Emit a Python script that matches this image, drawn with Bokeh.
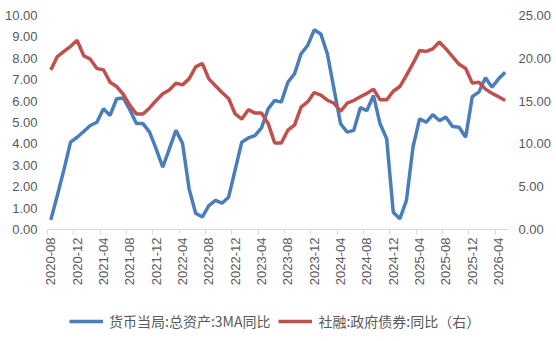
import math
import numpy as np
import pandas as pd
from bokeh.plotting import figure
from bokeh.layouts import column
from bokeh.models import (Range1d, LinearAxis, FixedTicker, Legend, LegendItem,
                          PrintfTickFormatter, ColumnDataSource)
from bokeh.embed import file_html
from bokeh.resources import INLINE

# Monthly series, 2020-08 .. 2026-05
months = pd.period_range("2020-08", periods=70, freq="M").strftime("%Y-%m").tolist()

# 货币当局:总资产:3MA同比 (left axis, %)
pboc_assets_yoy = [
    0.45, 1.60, 2.80, 4.08, 4.31, 4.58, 4.86, 5.01, 5.64, 5.33,
    6.11, 6.15, 5.60, 4.95, 4.95, 4.55, 3.77, 2.91, 3.77, 4.63,
    4.03, 1.90, 0.76, 0.58, 1.12, 1.36, 1.23, 1.51, 2.80, 4.08,
    4.28, 4.39, 4.75, 5.64, 6.03, 5.95, 6.88, 7.27, 8.21, 8.60,
    9.33, 9.14, 8.20, 6.57, 4.94, 4.55, 4.63, 5.69, 5.56, 6.26,
    4.94, 4.24, 0.81, 0.50, 1.36, 3.85, 5.17, 5.01, 5.37, 5.09,
    5.25, 4.81, 4.78, 4.31, 6.21, 6.42, 7.09, 6.65, 7.04, 7.35,
]

# 社融:政府债券:同比 (right axis, %)
gov_bond_yoy = [
    18.65, 20.20, 20.80, 21.40, 22.10, 20.30, 19.90, 18.80, 18.65, 17.20,
    16.70, 15.80, 14.50, 13.50, 13.50, 14.20, 15.07, 15.85, 16.30, 17.10,
    16.90, 17.60, 19.00, 19.40, 17.60, 16.80, 16.00, 15.30, 13.50, 12.90,
    14.00, 13.60, 13.60, 12.40, 10.10, 10.10, 11.60, 12.20, 14.30, 14.90,
    16.00, 15.70, 15.10, 14.75, 13.80, 14.75, 15.07, 15.50, 15.90, 16.40,
    15.15, 15.15, 16.15, 16.70, 18.00, 19.40, 20.90, 20.80, 21.10, 21.90,
    21.10, 20.20, 19.30, 18.80, 17.10, 17.20, 16.40, 15.90, 15.50, 15.07,
]

tick_labels = [
    "2020-08", "2020-12", "2021-04", "2021-08", "2021-12", "2022-04",
    "2022-08", "2022-12", "2023-04", "2023-08", "2023-12", "2024-04",
    "2024-08", "2024-12", "2025-04", "2025-08", "2025-12", "2026-04",
]
left_ticks = [0, 1, 2, 3, 4, 5, 6, 7, 8, 9, 10]
right_ticks = [0, 5, 10, 15, 20, 25]

series_names = ["货币当局:总资产:3MA同比", "社融:政府债券:同比（右）"]

BLUE = "#4a7ebb"
RED = "#c0504d"
TEXT = "#595959"
AXIS = "#d9d9d9"
NUM_FONT = "Liberation Sans"
CJK_FONT = "Noto Sans CJK SC"
LINE_W = 3.5

idx = list(range(len(months)))
src = ColumnDataSource(dict(x=idx, a=pboc_assets_yoy, b=gov_bond_yoy))

# ---- main chart -------------------------------------------------------------
p = figure(width=556, height=300, output_backend="svg", toolbar_location=None,
           x_range=Range1d(-0.5, len(months) - 0.5), y_range=Range1d(0, 10),
           min_border_left=47, min_border_right=48, min_border_top=15,
           min_border_bottom=71)
p.outline_line_color = None
p.xgrid.visible = False
p.ygrid.visible = False
p.background_fill_color = "white"
p.border_fill_color = "white"

p.extra_y_ranges = {"right": Range1d(0, 25)}

# Category positions of the labelled months
label_pos = [months.index(m) for m in tick_labels]

# Axis line with tick marks at category boundaries
xa = p.xaxis[0]
xa.ticker = FixedTicker(ticks=[q - 0.5 for q in label_pos])
xa.major_label_text_color = None
xa.major_label_text_font_size = "1px"
xa.major_label_standoff = 0
xa.major_tick_out = 5
xa.major_tick_in = 0
xa.minor_tick_line_color = None
xa.axis_line_color = AXIS
xa.major_tick_line_color = AXIS
xa.axis_line_width = 1

# Month labels centred on their categories
xl = LinearAxis(ticker=FixedTicker(ticks=label_pos),
                major_label_overrides={q: t for q, t in zip(label_pos, tick_labels)})
xl.axis_line_color = None
xl.major_tick_line_color = None
xl.minor_tick_line_color = None
xl.major_tick_out = 0
xl.major_tick_in = 0
xl.major_label_orientation = math.pi / 2
xl.major_label_standoff = 3
xl.major_label_text_font = NUM_FONT
xl.major_label_text_font_size = "13px"
xl.major_label_text_color = TEXT
p.add_layout(xl, "below")

ya = p.yaxis[0]
ya.ticker = FixedTicker(ticks=left_ticks)
ya.formatter = PrintfTickFormatter(format="%.2f")
ya.axis_line_color = None
ya.major_tick_line_color = None
ya.minor_tick_line_color = None
ya.major_tick_out = 0
ya.major_label_standoff = 10
ya.major_label_text_font = NUM_FONT
ya.major_label_text_font_size = "13px"
ya.major_label_text_color = TEXT

yr = LinearAxis(y_range_name="right", ticker=FixedTicker(ticks=right_ticks),
                formatter=PrintfTickFormatter(format="%.2f"))
yr.axis_line_color = None
yr.major_tick_line_color = None
yr.minor_tick_line_color = None
yr.major_tick_out = 0
yr.major_label_standoff = 10
yr.major_label_text_font = NUM_FONT
yr.major_label_text_font_size = "13px"
yr.major_label_text_color = TEXT
p.add_layout(yr, "right")

p.line("x", "a", source=src, line_color=BLUE, line_width=LINE_W)
p.line("x", "b", source=src, y_range_name="right", line_color=RED, line_width=LINE_W)

# ---- legend strip -----------------------------------------------------------
leg = figure(width=556, height=41, output_backend="svg", toolbar_location=None,
             x_range=Range1d(0, 1), y_range=Range1d(0, 1),
             x_axis_location=None, y_axis_location=None,
             min_border_left=0, min_border_right=0, min_border_top=0,
             min_border_bottom=0)
leg.grid.visible = False
leg.outline_line_color = None
leg.background_fill_color = "white"
leg.border_fill_color = "white"

# key renderers carry only the series styles; their single point is undefined
key_src = ColumnDataSource(dict(x=np.array([np.nan]), y=np.array([np.nan])))
k_blue = leg.line("x", "y", source=key_src, line_color=BLUE, line_width=LINE_W)
k_red = leg.line("x", "y", source=key_src, line_color=RED, line_width=LINE_W)

legend = Legend(items=[LegendItem(label=series_names[0], renderers=[k_blue]),
                       LegendItem(label=series_names[1], renderers=[k_red])],
                orientation="horizontal", location=(22, 10))
legend.border_line_color = None
legend.background_fill_alpha = 0
legend.label_text_font = CJK_FONT
legend.label_text_font_size = "14px"
legend.label_text_color = TEXT
legend.glyph_width = 34
legend.glyph_height = 14
legend.label_standoff = 6
legend.spacing = 8
legend.padding = 4
legend.margin = 0
leg.add_layout(legend)

page = column(p, leg, spacing=0)

open("out.html", "w").write(file_html(page, INLINE))
